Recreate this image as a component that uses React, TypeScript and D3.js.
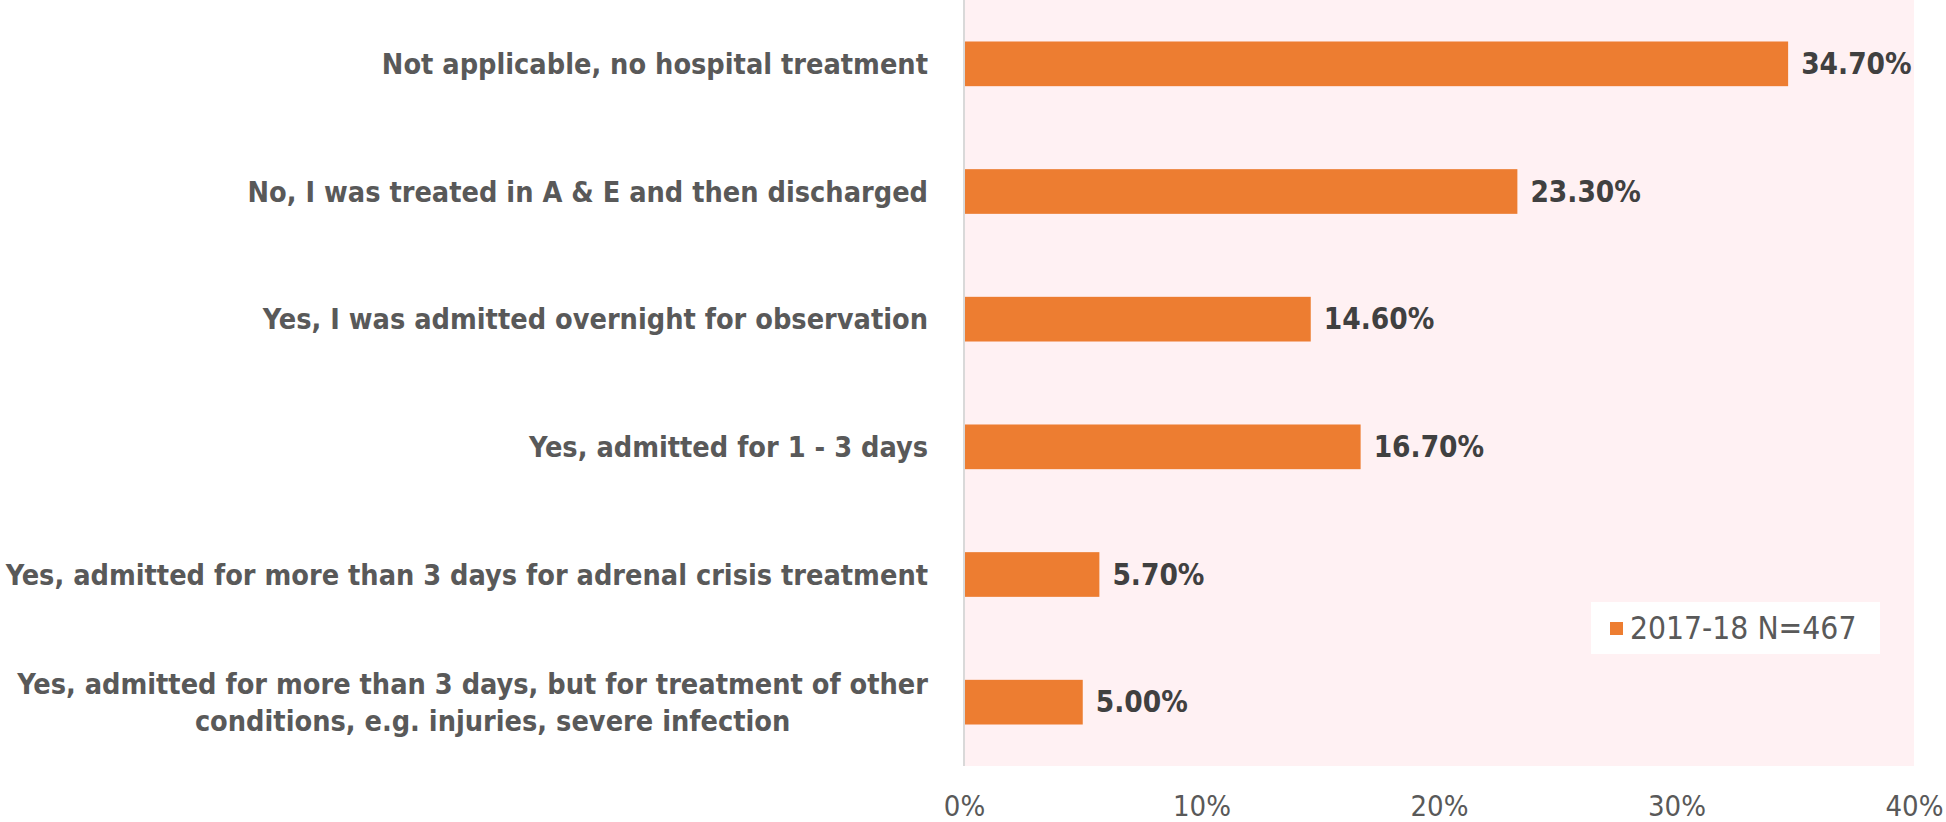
import React, { useEffect, useRef } from 'react';
import * as d3 from 'd3';

const categories = [
  'Not applicable, no hospital treatment',
  'No, I was treated in A & E and then discharged',
  'Yes, I was admitted overnight for observation',
  'Yes, admitted for 1 - 3 days',
  'Yes, admitted for more than 3 days for adrenal crisis treatment',
  'Yes, admitted for more than 3 days, but for treatment of other|conditions, e.g. injuries, severe infection',
];
const values = [34.7, 23.3, 14.6, 16.7, 5.7, 5.0];
const ticks = [0, 10, 20, 30, 40];
const seriesName = '2017-18 N=467';

const FONT = "'Liberation Sans Narrow', 'DejaVu Sans Condensed', 'Roboto', sans-serif";

const App: React.FC = () => {
  const svgRef = useRef<SVGSVGElement>(null);

  useEffect(() => {
    document.body.style.margin = '0';
    if (!svgRef.current) return;

    d3.select(svgRef.current).selectAll('*').remove();

    const W = 1946;
    const H = 822;
    const plot = { left: 964, right: 1914, top: 0, bottom: 766 };

    const svg = d3.select(svgRef.current)
      .attr('width', W)
      .attr('height', H)
      .style('display', 'block')
      .style('font-family', FONT);

    const x = d3.scaleLinear().domain([0, 40]).range([plot.left, plot.right]);
    const y = d3.scaleBand<number>()
      .domain(d3.range(categories.length))
      .range([plot.top, plot.bottom])
      .paddingInner(0.65)
      .paddingOuter(0.325);

    // plot background
    svg.append('rect')
      .attr('x', plot.left)
      .attr('y', plot.top)
      .attr('width', plot.right - plot.left)
      .attr('height', plot.bottom - plot.top)
      .attr('fill', '#fff1f3');

    // bars
    svg.append('g')
      .selectAll('rect')
      .data(values)
      .enter().append('rect')
      .attr('x', x(0))
      .attr('y', (d, i) => y(i) as number)
      .attr('width', d => x(d) - x(0))
      .attr('height', y.bandwidth())
      .attr('fill', '#ed7d31');

    // vertical axis line
    svg.append('line')
      .attr('x1', x(0)).attr('x2', x(0))
      .attr('y1', plot.top).attr('y2', plot.bottom)
      .attr('stroke', '#d9d9d9')
      .attr('stroke-width', 2);

    // data labels
    svg.append('g')
      .selectAll('text')
      .data(values)
      .enter().append('text')
      .attr('x', d => x(d) + 13)
      .attr('y', (d, i) => (y(i) as number) + y.bandwidth() / 2)
      .attr('dy', '0.35em')
      .attr('font-size', 29.5)
      .attr('font-weight', 'bold')
      .attr('fill', '#404040')
      .text(d => d.toFixed(2) + '%');

    // category labels
    const labelX = 928;
    categories.forEach((c, i) => {
      const cy = (y(i) as number) + y.bandwidth() / 2;
      const lines = c.split('|');
      if (lines.length === 1) {
        svg.append('text')
          .attr('x', labelX)
          .attr('y', cy)
          .attr('dy', '0.35em')
          .attr('text-anchor', 'end')
          .attr('font-size', 28.6)
          .attr('font-weight', 'bold')
          .attr('fill', '#595959')
          .text(c);
      } else {
        const first = svg.append('text')
          .attr('x', labelX)
          .attr('y', cy - 18)
          .attr('dy', '0.35em')
          .attr('text-anchor', 'end')
          .attr('font-size', 28.6)
          .attr('font-weight', 'bold')
          .attr('fill', '#595959')
          .text(lines[0]);
        const len = (first.node() as SVGTextElement).getComputedTextLength();
        svg.append('text')
          .attr('x', labelX - len / 2 + 20)
          .attr('y', cy + 19)
          .attr('dy', '0.35em')
          .attr('text-anchor', 'middle')
          .attr('font-size', 28.6)
          .attr('font-weight', 'bold')
          .attr('fill', '#595959')
          .text(lines[1]);
      }
    });

    // x axis tick labels
    const axis = svg.append('g')
      .attr('transform', `translate(0,${plot.bottom})`)
      .call(d3.axisBottom(x).tickValues(ticks).tickSize(0).tickPadding(0).tickFormat(d => `${d}%`));
    axis.select('.domain').remove();
    axis.selectAll('text')
      .attr('y', 40)
      .attr('dy', '0.35em')
      .attr('font-size', 29)
      .attr('font-family', FONT)
      .attr('fill', '#595959');

    // legend
    const legend = svg.append('g').attr('transform', 'translate(1591,602)');
    legend.append('rect')
      .attr('width', 289)
      .attr('height', 52)
      .attr('fill', '#ffffff');
    legend.append('rect')
      .attr('x', 19)
      .attr('y', 20)
      .attr('width', 13)
      .attr('height', 13)
      .attr('fill', '#ed7d31');
    legend.append('text')
      .attr('x', 39)
      .attr('y', 26)
      .attr('dy', '0.35em')
      .attr('font-size', 31.5)
      .attr('fill', '#595959')
      .text(seriesName);
  }, []);

  return <svg ref={svgRef}></svg>;
};

export default App;
